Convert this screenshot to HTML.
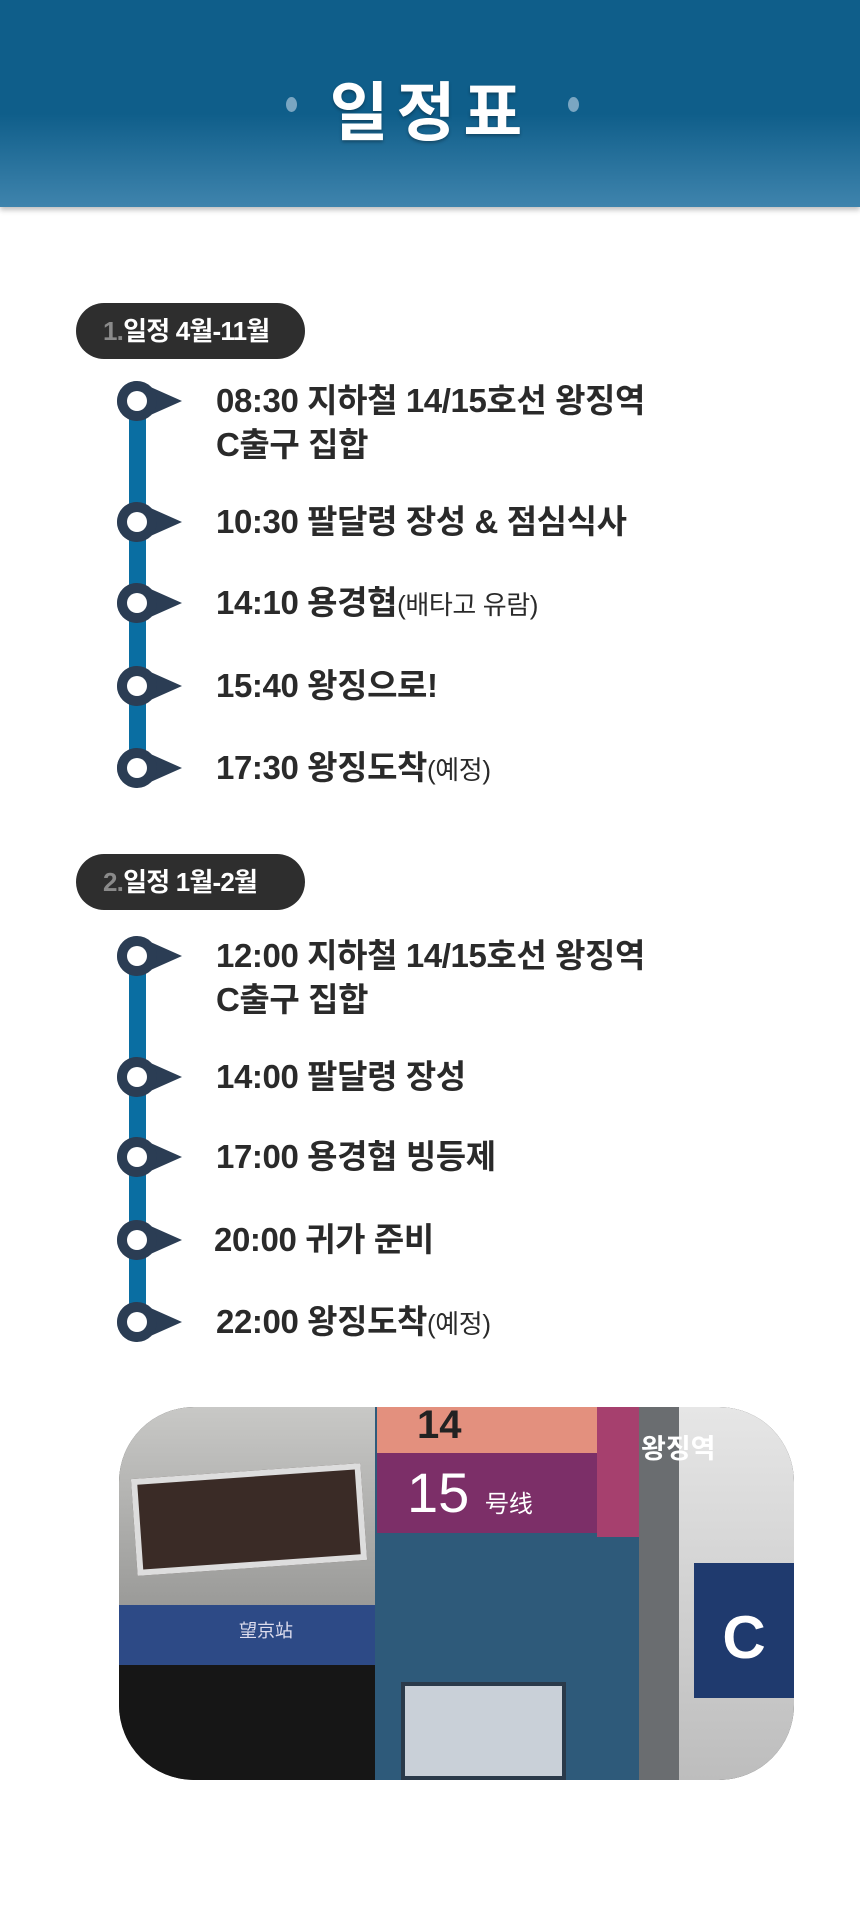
<!DOCTYPE html>
<html><head><meta charset="utf-8"><style>
*{margin:0;padding:0;box-sizing:border-box}
body{width:860px;height:1907px;background:#fff;position:relative;overflow:hidden;font-family:"Liberation Sans","Noto Sans CJK KR",sans-serif}
.hdr{position:absolute;left:0;top:0;width:860px;height:207px;background:linear-gradient(180deg,#0f5e8a 0%,#0f5e8a 55%,#3f84ad 100%);box-shadow:0 3px 5px rgba(0,0,0,.25)}
.title{position:absolute;left:0;width:860px;top:62px;text-align:center;color:#fff;font-size:64px;font-weight:bold;letter-spacing:8px;text-shadow:0 2px 3px rgba(0,0,0,.3)}
.dot{position:absolute;top:97px;width:11px;height:15px;border-radius:50%;background:#7aa6c2}
.pill{position:absolute;left:76px;width:229px;height:56px;border-radius:28px;background:#2e2e2e;color:#fff;font-weight:bold;font-size:26px;line-height:56px;padding-left:27px;letter-spacing:-0.8px}
.pill span{color:#8a8a8a}
.it{position:absolute;left:216px;color:#2a2a2a;font-weight:bold;font-size:33px;line-height:44px;letter-spacing:-0.4px}
.it small{font-size:26px;font-weight:normal}
.photo{position:absolute;left:119px;top:1407px;width:675px;height:373px;border-radius:75px;overflow:hidden;background:#222}
.photo div{position:absolute}
</style></head><body>
<div class="hdr"></div>
<div class="dot" style="left:286px"></div><div class="dot" style="left:568px"></div>
<div class="title">일정표</div>

<div class="pill" style="top:303px"><span>1.</span>일정 4월-11월</div>
<div class="pill" style="top:854px"><span>2.</span>일정 1월-2월</div>

<svg width="860" height="1907" style="position:absolute;left:0;top:0">
<defs><g id="n"><path d="M-20,0 A20,20 0 0 1 0,-20 L45,0 L0,20 A20,20 0 0 1 -20,0Z" fill="#2b3d54"/><circle cx="0" cy="0" r="20" fill="#2b3d54"/><circle cx="0" cy="0" r="10" fill="#fff"/></g></defs>
<rect x="129" y="401" width="17" height="367" fill="#0a6ea2"/>
<rect x="129" y="956" width="17" height="366" fill="#0a6ea2"/>
<use href="#n" x="137" y="401"/><use href="#n" x="137" y="522"/><use href="#n" x="137" y="603"/><use href="#n" x="137" y="686"/><use href="#n" x="137" y="768"/>
<use href="#n" x="137" y="956"/><use href="#n" x="137" y="1077"/><use href="#n" x="137" y="1157"/><use href="#n" x="137" y="1240"/><use href="#n" x="137" y="1322"/>
</svg>

<div class="it" style="top:379px">08:30 지하철 14/15호선 왕징역<br>C출구 집합</div>
<div class="it" style="top:500px">10:30 팔달령 장성 &amp; 점심식사</div>
<div class="it" style="top:581px">14:10 용경협<small>(배타고 유람)</small></div>
<div class="it" style="top:664px">15:40 왕징으로!</div>
<div class="it" style="top:746px">17:30 왕징도착<small>(예정)</small></div>

<div class="it" style="top:934px">12:00 지하철 14/15호선 왕징역<br>C출구 집합</div>
<div class="it" style="top:1055px">14:00 팔달령 장성</div>
<div class="it" style="top:1135px">17:00 용경협 빙등제</div>
<div class="it" style="top:1218px;left:214px">20:00 귀가 준비</div>
<div class="it" style="top:1300px">22:00 왕징도착<small>(예정)</small></div>

<div class="photo">
<div style="left:0;top:0;width:258px;height:200px;background:linear-gradient(180deg,#c8c8c6,#9a9a98)"></div>
<div style="left:15px;top:64px;width:230px;height:97px;background:#3a2b26;border:6px solid #ddd;transform:rotate(-4deg)"></div>
<div style="left:0;top:198px;width:258px;height:60px;background:#2d4a86;color:#dde;font-size:18px;padding:12px 0 0 120px">望京站</div>
<div style="left:0;top:258px;width:258px;height:115px;background:#161616"></div>
<div style="left:256px;top:0;width:264px;height:373px;background:#2e5a7a"></div>
<div style="left:258px;top:0;width:220px;height:46px;background:#e3907e;color:#222;font-size:40px;font-weight:bold;line-height:36px;padding-left:40px">14</div>
<div style="left:258px;top:46px;width:220px;height:80px;background:#7c2f68;color:#fff;font-size:56px;line-height:80px;padding-left:30px">15 <span style="font-size:24px">号线</span></div>
<div style="left:478px;top:0;width:42px;height:130px;background:#a6406e"></div>
<div style="left:282px;top:275px;width:165px;height:98px;background:#c9d0d8;border:4px solid #2a3a4a"></div>
<div style="left:520px;top:0;width:42px;height:373px;background:#6a6d70"></div>
<div style="left:560px;top:0;width:115px;height:373px;background:linear-gradient(180deg,#e6e6e6,#bdbdbd)"></div>
<div style="left:575px;top:156px;width:100px;height:135px;background:#1f3a6e;color:#fff;font-size:60px;font-weight:bold;text-align:center;line-height:150px">C</div>
<div style="left:522px;top:20px;color:#fff;font-size:27px;font-weight:bold">왕징역</div>
</div>
</body></html>
